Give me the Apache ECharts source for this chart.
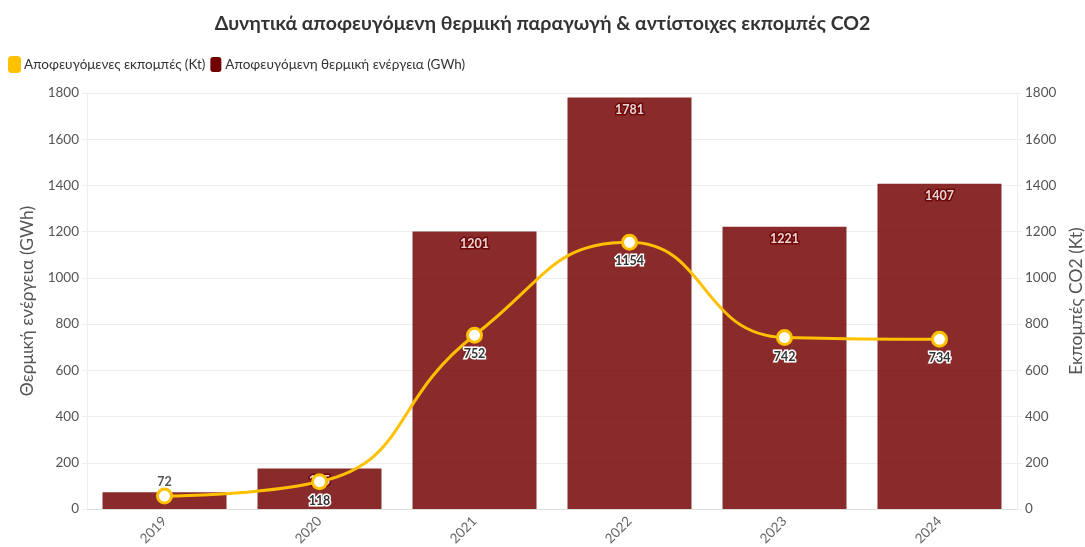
<!DOCTYPE html>
<html><head><meta charset="utf-8">
<script src="https://cdn.jsdelivr.net/npm/echarts@6/dist/echarts.min.js"></script>
<style>html,body{margin:0;padding:0;background:#fff}#c{width:1085px;height:547px}</style>
</head><body><div id="c"></div>
<script>
const years = ['2019','2020','2021','2022','2023','2024'];
const energyGWh = [72, 175, 1201, 1781, 1221, 1407];
const emissionsKt = [56, 118, 752, 1154, 742, 734];
const axisTicks = {min: 0, max: 1800, interval: 200};

const chart = echarts.init(document.getElementById('c'));
const font = 'Lato, "Open Sans", sans-serif';
chart.setOption({
  animation: false,
  textStyle: {fontFamily: font},
  title: {text: 'Δυνητικά αποφευγόμενη θερμική παραγωγή & αντίστοιχες εκπομπές CO2', left: 'center', top: 9,
    padding: [5, 0, 5, 22],
    textStyle: {fontSize: 19.5, fontWeight: 'bold', color: '#333', fontFamily: font}},
  legend: {left: 3, top: 51, itemWidth: 11, itemHeight: 15, itemGap: 5, icon: 'roundRect',
    textStyle: {fontSize: 13.5, color: '#333', fontFamily: font, padding: [0, 0, 0, -1]},
    data: [{name: 'Αποφευγόμενες εκπομπές (Kt)', itemStyle: {color: '#FFC000'}},
           {name: 'Αποφευγόμενη θερμική ενέργεια (GWh)', itemStyle: {color: '#720000', opacity: 1}}]},
  grid: {left: 87, right: 68, top: 93, bottom: 38, outerBoundsMode: 'none', containLabel: false},
  xAxis: {type: 'category', data: years,
    axisLine: {lineStyle: {color: '#ddd'}}, axisTick: {alignWithLabel: true, lineStyle: {color: '#ddd'}},
    axisLabel: {rotate: 45, color: '#666', fontSize: 13.5, margin: 10}},
  yAxis: [
    {type: 'value', ...axisTicks, name: 'Θερμική ενέργεια (GWh)', nameLocation: 'middle', nameGap: 40, nameRotate: 90,
     nameTextStyle: {fontSize: 17.5, color: '#555'},
     axisLine: {show: true, lineStyle: {color: '#eee'}}, axisTick: {show: true, lineStyle: {color: '#eee'}},
     axisLabel: {color: '#555', fontSize: 13.5, formatter: v => String(v)}, splitLine: {lineStyle: {color: '#eee'}}},
    {type: 'value', ...axisTicks, name: 'Εκπομπές CO2 (Kt)', nameLocation: 'middle', nameGap: 47, nameRotate: 90,
     nameTextStyle: {fontSize: 17.5, color: '#555'},
     axisLine: {show: true, lineStyle: {color: '#eee'}}, axisTick: {show: true, lineStyle: {color: '#eee'}},
     axisLabel: {color: '#555', fontSize: 13.5, formatter: v => String(v)}, splitLine: {show: false}}
  ],
  series: [
    {name: 'Αποφευγόμενη θερμική ενέργεια (GWh)', type: 'bar', yAxisIndex: 0, barCategoryGap: '20%',
     itemStyle: {color: '#720000', opacity: 0.83},
     data: energyGWh.map((v, i) => i === 0 ? {value: v, label: {position: 'top', distance: 4, color: '#333', textBorderColor: '#fff'}} : v),
     label: {show: true, position: 'insideTop', distance: 6, color: '#fff', fontWeight: 'bold', fontSize: 12.5,
       textBorderColor: '#6b0000', textBorderWidth: 3}},
    {name: 'Αποφευγόμενες εκπομπές (Kt)', type: 'line', yAxisIndex: 1, smooth: true, z: 2,
     lineStyle: {color: '#FFC000', width: 3}, symbol: 'circle', symbolSize: 14,
     itemStyle: {color: '#fff', borderColor: '#FFC000', borderWidth: 3},
     data: emissionsKt.map((v, i) => i === 0 ? {value: v, label: {show: false}} : v),
     label: {show: true, position: 'bottom', distance: 4, color: '#333', fontWeight: 'bold', fontSize: 12.5,
       textBorderColor: '#fff', textBorderWidth: 3}}
  ]
});
</script></body></html>
